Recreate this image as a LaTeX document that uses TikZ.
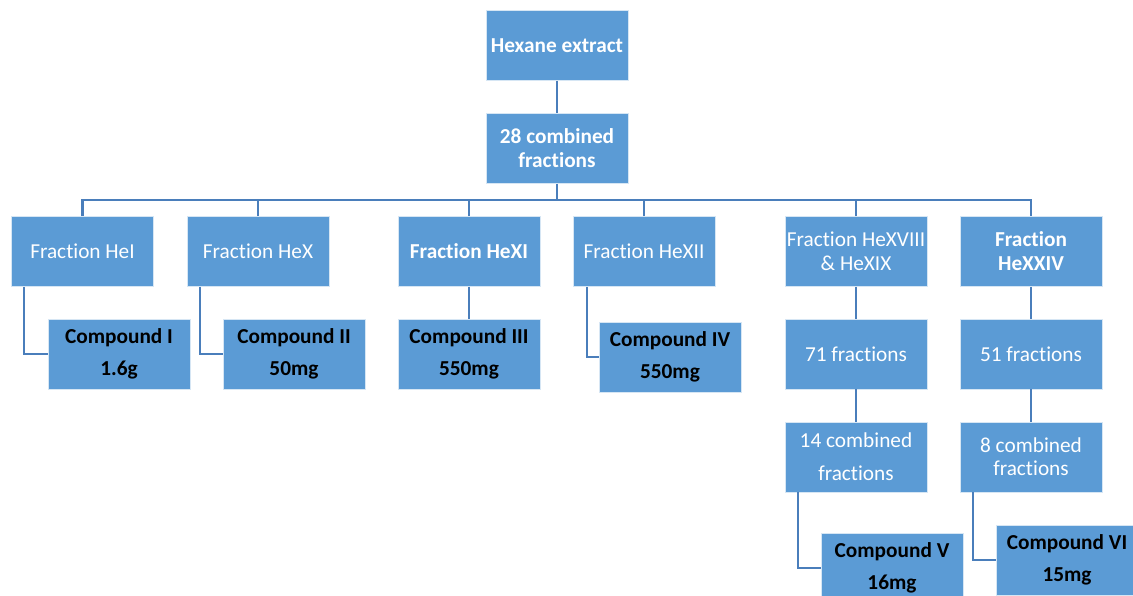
\documentclass[tikz,border=0pt]{standalone}
\usepackage{fontspec}
\setmainfont{Carlito}[Ligatures=NoCommon]
\definecolor{boxblue}{RGB}{91,155,213}
\definecolor{lineblue}{RGB}{74,126,187}
\begin{document}
\begin{tikzpicture}[x=1pt,y=-1pt,
  box/.style={rectangle, fill=boxblue, draw=white!75!boxblue, line width=0.8pt,
    minimum width=142pt, minimum height=70pt, inner sep=0pt, align=center,
    text=white, font=\fontsize{21.3}{24}\selectfont},
  bbox/.style={box, font=\fontsize{21.3}{24}\selectfont\bfseries},
  cbox/.style={box, text=black, font=\fontsize{21.3}{32}\selectfont\bfseries},
  conn/.style={draw=lineblue, line width=2.6pt}]
\clip (0,0) rectangle (1133,595);
\fill[white] (0,0) rectangle (1133,595);
% coordinates
\coordinate (busY) at (0,200);
\coordinate (e1) at (24,0);
\coordinate (e2) at (200,0);
\coordinate (e4) at (587,0);
\coordinate (e5) at (798,0);
\coordinate (e6) at (973,0);
% nodes
\node[bbox] (top) at (557,45.5) {Hexane extract};
\node[bbox] (c28) at (557,148.5) {28 combined\\fractions};
\node[box] (f1) at (82.5,251.5) {Fraction HeI};
\node[box] (f2) at (258,251.5) {Fraction HeX};
\node[bbox] (f3) at (469,251.5) {Fraction HeXI};
\node[box] (f4) at (644,251.5) {Fraction HeXII};
\node[box] (f5) at (856,251.5) {Fraction HeXVIII\\\& HeXIX};
\node[bbox] (f6) at (1031,251.5) {Fraction\\HeXXIV};
\node[cbox] (k1) at (119,354) {Compound I\\1.6g};
\node[cbox] (k2) at (294,354) {Compound II\\50mg};
\node[cbox] (k3) at (469,354) {Compound III\\550mg};
\node[cbox] (k4) at (670,357) {Compound IV\\550mg};
\node[box] (n71) at (856,354) {71 fractions};
\node[box] (n51) at (1031,354) {51 fractions};
\node[box, font=\fontsize{21.3}{33}\selectfont] (c14) at (856,457) {14 combined\\fractions};
\node[box, font=\fontsize{21.3}{23}\selectfont] (c8) at (1031,457) {8 combined\\fractions};
\node[cbox] (k5) at (892,568) {Compound V\\16mg};
\node[cbox] (k6) at (1067,560) {Compound VI\\15mg};
% connectors
\path[conn] (top.south) -- (c28.north);
\path[conn] (c28.south) -- (c28.south |- busY);
\path[conn] (f1.north) -- (f1.north |- busY) -- (f6.north |- busY) -- (f6.north);
\path[conn] (f2.north) -- (f2.north |- busY);
\path[conn] (f3.north) -- (f3.north |- busY);
\path[conn] (f4.north) -- (f4.north |- busY);
\path[conn] (f5.north) -- (f5.north |- busY);
\path[conn] (f1.south -| e1) |- (k1.west);
\path[conn] (f2.south -| e2) |- (k2.west);
\path[conn] (f3.south) -- (k3.north);
\path[conn] (f4.south -| e4) |- (k4.west);
\path[conn] (f5.south) -- (n71.north);
\path[conn] (f6.south) -- (n51.north);
\path[conn] (n71.south) -- (c14.north);
\path[conn] (n51.south) -- (c8.north);
\path[conn] (c14.south -| e5) |- (k5.west);
\path[conn] (c8.south -| e6) |- (k6.west);
\end{tikzpicture}
\end{document}
